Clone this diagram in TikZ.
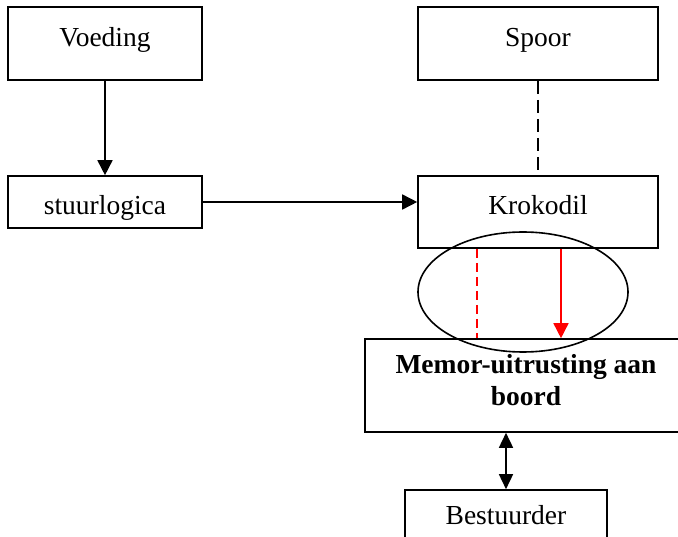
\documentclass[tikz,border=0pt]{standalone}
\usepackage{fontspec}
\setmainfont{Liberation Serif}
\usetikzlibrary{arrows.meta,shapes.geometric}
\begin{document}
\begin{tikzpicture}[x=1pt,y=-1pt,
  box/.style={draw,line width=1.6pt,rectangle,inner sep=0pt},
  lbl/.style={anchor=base,inner sep=0pt,font=\fontsize{27.5}{33}\selectfont},
  conn/.style={line width=1.6pt},
  blk/.style={-{Triangle[length=15pt,width=15pt]}},
  redtip/.style={-{Triangle[length=15pt,width=15pt]}}]
\useasboundingbox (0,0) rectangle (678,537);
\clip (0,0) rectangle (678,537);
% boxes
\node[box,minimum width=194pt,minimum height=73pt] (voed) at (105,43.5) {};
\node[box,minimum width=240pt,minimum height=73pt] (spoor) at (538,43.5) {};
\node[box,minimum width=194pt,minimum height=52pt] (stuur) at (105,202) {};
\node[box,minimum width=240pt,minimum height=72pt] (krok) at (538,212) {};
\node[box,minimum width=322pt,minimum height=93pt] (memor) at (526,385.5) {};
\node[box,minimum width=202pt,minimum height=70pt] (best) at (506,525) {};
% labels
\node[lbl] (tvoed) at (105,47) {Voeding};
\node[lbl] (tspoor) at (538,47) {Spoor};
\node[lbl] (tstuur) at (105,215) {stuurlogica};
\node[lbl] (tkrok) at (538,215) {Krokodil};
\node[lbl,font=\fontsize{27.5}{33}\selectfont\bfseries] (tmem1) at (526,374) {Memor-uitrusting aan};
\node[lbl,font=\fontsize{27.5}{33}\selectfont\bfseries] (tmem2) at (526,406) {boord};
\node[lbl] (tbest) at (506,524) {Bestuurder};
% ellipse
\node[draw,ellipse,line width=1.6pt,minimum width=210pt,minimum height=120pt,inner sep=0pt] (ell) at (523,292) {};
% connectors
\draw[conn,blk] (voed.south) -- (stuur.north);
\draw[conn,blk] (stuur.east) -- (stuur.east -| krok.west);
\draw[conn,dash pattern=on 13pt off 6pt] (spoor.south) -- (krok.north);
\coordinate (rdA) at (477,248);
\coordinate (rsA) at (561,248);
\draw[conn,red,dash pattern=on 9pt off 5pt] (rdA |- krok.south) -- (rdA |- memor.north);
\draw[conn,red,redtip] (rsA |- krok.south) -- (rsA |- memor.north);
\draw[conn,{Triangle[length=15pt,width=14pt]}-{Triangle[length=15pt,width=14pt]}] (memor.south -| best.north) -- (best.north);
\end{tikzpicture}
\end{document}
